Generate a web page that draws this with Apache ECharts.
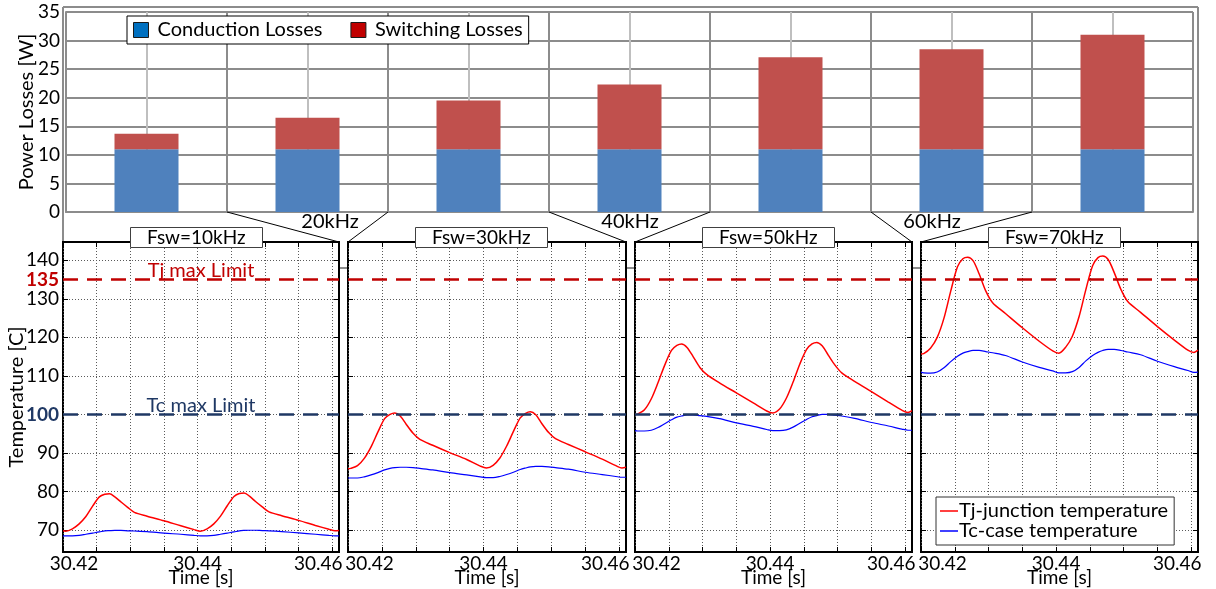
<!DOCTYPE html>
<html><head><meta charset="utf-8">
<script src="https://cdn.jsdelivr.net/npm/echarts@6/dist/echarts.min.js"></script>
<style>html,body{margin:0;padding:0;background:#fff}#c{width:1216px;height:589px}</style>
</head><body><div id="c"></div>
<script>
// ---------------- DATA ----------------
const categories = ['10kHz','20kHz','30kHz','40kHz','50kHz','60kHz','70kHz'];
const conductionLosses = [11, 11, 11, 11, 11, 11, 11];
const switchingLosses = [2.7, 5.5, 8.5, 11.3, 16.1, 17.5, 20.0];

const panelTitles = ['Fsw=10kHz', 'Fsw=30kHz', 'Fsw=50kHz', 'Fsw=70kHz'];
const skippedFreqLabels = ['20kHz', '40kHz', '60kHz'];

const time = [30.4200,30.4204,30.4214,30.4224,30.4234,30.4244,30.4254,30.4262,30.4269,30.4277,30.4286,30.4296,30.4306,30.4325,30.4350,30.4375,30.4395,
  30.4404,30.4414,30.4424,30.4434,30.4444,30.4454,30.4462,30.4469,30.4477,30.4486,30.4496,30.4506,30.4525,30.4550,30.4575,30.4595,
  30.4604,30.4610];

const tj10 = [69.8,69.7,70.3,71.6,73.5,76.2,78.6,79.3,79.4,78.6,77.3,75.9,74.6,73.6,72.4,71.1,70.1,
  69.7,70.3,71.6,73.6,76.3,78.7,79.5,79.6,78.8,77.4,76.0,74.7,73.7,72.5,71.2,70.2, 69.8,69.9];
const tc10 = [68.5,68.5,68.5,68.6,68.9,69.2,69.5,69.8,69.85,69.9,69.9,69.8,69.75,69.6,69.2,68.9,68.6,
  68.5,68.5,68.6,68.9,69.2,69.5,69.8,69.9,69.95,69.95,69.85,69.8,69.6,69.25,68.9,68.6, 68.5,68.5];
const tj30 = [85.9,86.0,86.7,88.6,91.6,95.4,98.9,100.0,100.4,99.6,97.4,95.1,93.5,92.0,90.1,88.3,86.6,
  86.1,86.8,88.7,91.8,95.6,99.1,100.3,100.7,99.9,97.6,95.3,93.7,92.2,90.3,88.4,86.7, 86.1,86.3];
const tc30 = [83.5,83.5,83.5,83.8,84.3,84.9,85.6,86.0,86.2,86.3,86.3,86.2,86.0,85.6,84.9,84.3,83.8,
  83.6,83.6,83.9,84.4,85.0,85.7,86.1,86.4,86.5,86.5,86.4,86.2,85.8,85.0,84.4,83.9, 83.7,83.7];
const tj50 = [100.0,100.1,101.2,104.0,108.2,112.8,116.6,117.9,118.3,117.4,115.0,112.2,110.4,108.2,105.6,103.0,100.9,
  100.4,101.4,104.2,108.4,113.1,116.9,118.3,118.7,117.8,115.4,112.8,110.8,108.6,105.9,103.2,101.1, 100.5,101.0];
const tc50 = [95.8,95.7,95.7,95.9,96.6,97.6,98.6,99.3,99.6,99.9,99.9,99.7,99.5,98.9,97.8,96.9,96.1,
  95.8,95.8,96.0,96.7,97.7,98.7,99.4,99.7,100.0,100.0,99.8,99.6,99.0,97.9,97.0,96.2, 95.9,95.9];
const tj70 = [115.7,115.8,117.2,120.0,125.0,132.0,138.3,140.4,140.8,139.9,136.5,132.0,129.0,126.2,122.5,119.0,116.5,
  115.9,117.4,120.3,125.4,132.4,138.6,140.7,141.1,140.2,136.8,132.4,129.3,126.5,122.8,119.3,116.7, 116.1,116.7];
const tc70 = [110.9,110.8,110.7,111.0,112.1,113.7,115.1,115.9,116.3,116.6,116.6,116.3,116.0,115.3,113.6,112.2,111.3,
  110.8,110.8,111.1,112.2,113.9,115.3,116.1,116.6,116.9,116.9,116.6,116.2,115.5,113.8,112.4,111.4, 110.9,111.0];

const tempTicks = [70, 80, 90, 100, 110, 120, 130, 140];
const tempLabels = [70, 80, 90, 100, 110, 120, 130, 135, 140];
const timeTicks = [30.42, 30.425, 30.43, 30.435, 30.44, 30.445, 30.45, 30.455, 30.46];
const timeLabels = [30.42, 30.44, 30.46];
const tjMax = 135, tcMax = 100;

// ---------------- LAYOUT ----------------
const FONT = 'Lato, "Open Sans", sans-serif';
const BAR = {left: 66, top: 12, width: 1127, height: 200};
const PANEL_LEFT = [63, 348, 635, 921];
const PANEL_W = [276, 278, 277, 277];
const PANEL_TOP = 242, PANEL_H = 310;
const T_MIN = 64.3, T_MAX = 144.75, X_MIN = 30.42, X_MAX = 30.461;
const FRAME = {left: 63, top: 7, right: 1198, bottom: 268};
const FUNNEL_LABEL_X = [330, 630, 932];
const RED = '#C00000', NAVY = '#1F3864';

const tjSeries = [tj10, tj30, tj50, tj70];
const tcSeries = [tc10, tc30, tc50, tc70];

const grids = [Object.assign({show: false, outerBoundsMode: 'none', containLabel: false}, BAR)];
PANEL_LEFT.forEach((l, i) => grids.push({left: l, top: PANEL_TOP, width: PANEL_W[i], height: PANEL_H,
  show: true, backgroundColor: '#fff', borderColor: '#000', borderWidth: 2, outerBoundsMode: 'none', containLabel: false}));

const txt = (size) => ({fontSize: size, fontFamily: FONT, color: '#000'});

const xAxes = [{type: 'category', gridIndex: 0, data: categories, boundaryGap: true,
  axisLabel: {show: false}, axisTick: {show: false},
  axisLine: {show: true, lineStyle: {color: '#8C8C8C', width: 2}},
  splitLine: {show: true, lineStyle: {color: '#8C8C8C', width: 2}}}];
const yAxes = [{type: 'value', gridIndex: 0, min: 0, max: 35, interval: 5,
  axisLine: {show: true, lineStyle: {color: '#8C8C8C', width: 2}}, axisTick: {show: false},
  splitLine: {show: true, lineStyle: {color: '#8C8C8C', width: 2}},
  axisLabel: Object.assign({margin: 6}, txt(19)),
  name: 'Power Losses [W]', nameLocation: 'middle', nameGap: 29, nameMoveOverlap: false, nameTextStyle: txt(20)}];

const series = [
  {type: 'bar', name: 'Conduction Losses', xAxisIndex: 0, yAxisIndex: 0, stack: 'loss', barWidth: 64,
    itemStyle: {color: '#4F81BD'}, data: conductionLosses, z: 3},
  {type: 'bar', name: 'Switching Losses', xAxisIndex: 0, yAxisIndex: 0, stack: 'loss', barWidth: 64,
    itemStyle: {color: '#C0504D'}, data: switchingLosses, z: 3},
  {type: 'line', name: 'centre', xAxisIndex: 0, yAxisIndex: 0, data: categories.map(() => null), z: 1, silent: true,
    markLine: {symbol: 'none', silent: true, label: {show: false}, animation: false, z: 1,
      lineStyle: {color: '#BFBFBF', width: 2, type: 'solid'},
      data: categories.map(c => ({xAxis: c}))}}
];

PANEL_LEFT.forEach((l, i) => {
  const g = i + 1;
  const tickX = {show: true, inside: true, length: 5, customValues: timeTicks, lineStyle: {color: '#000', width: 1}};
  const tickY = {show: true, inside: true, length: 5, customValues: tempTicks, lineStyle: {color: '#000', width: 1}};
  const grid = {color: '#5a5a5a', width: 1, type: [1, 2]};
  xAxes.push({type: 'value', gridIndex: g, position: 'bottom', min: X_MIN, max: X_MAX,
    axisLine: {show: false}, axisTick: tickX, splitLine: {show: true, lineStyle: grid},
    axisLabel: Object.assign({customValues: timeLabels, margin: 2, hideOverlap: false,
      formatter: (v) => {
        const s = v.toFixed(2);
        if (Math.abs(v - timeLabels[0]) < 1e-6) return '{l|' + s + '}';
        if (Math.abs(v - timeLabels[2]) < 1e-6) return '{r|' + s + '}';
        return s;
      },
      rich: {
        l: Object.assign({padding: [0, 0, 0, i === 0 ? 22 : 43]}, txt(19)),
        r: Object.assign({padding: [0, 28, 0, 0]}, txt(19))
      }}, txt(19)),
    name: 'Time [s]', nameLocation: 'middle', nameGap: 16, nameMoveOverlap: false, nameTextStyle: txt(19)});
  xAxes.push({type: 'value', gridIndex: g, position: 'top', min: X_MIN, max: X_MAX,
    axisLine: {show: false}, axisTick: tickX, axisLabel: {show: false}, splitLine: {show: false}});
  const left = {type: 'value', gridIndex: g, position: 'left', min: T_MIN, max: T_MAX,
    axisLine: {show: false}, axisTick: tickY, splitLine: {show: true, lineStyle: grid},
    axisLabel: {show: false}};
  if (i === 0) {
    left.axisLabel = Object.assign({show: true, customValues: tempLabels, margin: 4, hideOverlap: false,
      formatter: (v) => v === tjMax ? '{tj|' + v + '}' : (v === tcMax ? '{tc|' + v + '}' : String(v)),
      rich: {
        tj: Object.assign({}, txt(19), {color: RED, fontWeight: 'bold'}),
        tc: Object.assign({}, txt(19), {color: NAVY, fontWeight: 'bold'})
      }}, txt(19));
    left.name = 'Temperature [C]';
    left.nameLocation = 'middle';
    left.nameGap = 36;
    left.nameMoveOverlap = false;
    left.nameTextStyle = txt(20);
  }
  yAxes.push(left);
  yAxes.push({type: 'value', gridIndex: g, position: 'right', min: T_MIN, max: T_MAX,
    axisLine: {show: false}, axisTick: tickY, axisLabel: {show: false}, splitLine: {show: false}});

  const xi = 1 + 2 * i, yi = 1 + 2 * i;
  series.push({type: 'line', name: 'Tj-junction temperature', xAxisIndex: xi, yAxisIndex: yi,
    data: time.map((t, k) => [t, tjSeries[i][k]]), symbol: 'none', smooth: 0.3, z: 4,
    lineStyle: {color: '#FF0000', width: 1.5}, itemStyle: {color: '#FF0000'},
    markLine: {symbol: 'none', silent: true, animation: false,
      lineStyle: {color: RED, width: 2.5, type: [15, 9]},
      label: i === 0 ? {show: true, formatter: 'Tj max Limit', position: 'insideMiddleTop', distance: -1,
        color: RED, fontSize: 20, fontFamily: FONT} : {show: false},
      data: [{yAxis: tjMax}]}});
  series.push({type: 'line', name: 'Tc-case temperature', xAxisIndex: xi, yAxisIndex: yi,
    data: time.map((t, k) => [t, tcSeries[i][k]]), symbol: 'none', smooth: 0.3, z: 4,
    lineStyle: {color: '#0000FF', width: 1.2}, itemStyle: {color: '#0000FF'},
    markLine: {symbol: 'none', silent: true, animation: false,
      lineStyle: {color: NAVY, width: 2.5, type: [15, 9]},
      label: i === 0 ? {show: true, formatter: 'Tc max Limit', position: 'insideMiddleTop', distance: -1,
        color: NAVY, fontSize: 20, fontFamily: FONT} : {show: false},
      data: [{yAxis: tcMax}]}});
});

// titles for panels
const titles = panelTitles.map((t, i) => ({text: t, left: PANEL_LEFT[i] + 67, top: 227,
  padding: [1, 17, 1, 17], borderColor: '#404040', borderWidth: 1, backgroundColor: '#fff',
  textStyle: {fontSize: 19, fontFamily: FONT, fontWeight: 'normal', color: '#000', lineHeight: 19}, z: 8}));

// decorative frame and funnels
const catW = BAR.width / categories.length;
const barBottom = BAR.top + BAR.height;
const gray = {stroke: '#8C8C8C', lineWidth: 2};
const graphic = [
  {type: 'line', shape: {x1: FRAME.left, y1: FRAME.top, x2: FRAME.right, y2: FRAME.top}, style: gray, z: -1},
  {type: 'line', shape: {x1: FRAME.left, y1: FRAME.top, x2: FRAME.left, y2: PANEL_TOP}, style: gray, z: -1},
  {type: 'line', shape: {x1: FRAME.right, y1: FRAME.top, x2: FRAME.right, y2: PANEL_TOP}, style: gray, z: -1}
];
for (let k = 0; k < 3; k++) {
  const pr = PANEL_LEFT[k] + PANEL_W[k], pl = PANEL_LEFT[k + 1];
  graphic.push({type: 'line', shape: {x1: pr, y1: FRAME.bottom, x2: pl, y2: FRAME.bottom}, style: gray, z: -1});
  const c = 2 * k + 1;
  graphic.push({type: 'line', shape: {x1: BAR.left + c * catW, y1: barBottom, x2: pr, y2: PANEL_TOP},
    style: {stroke: '#000', lineWidth: 1}, z: 10});
  graphic.push({type: 'line', shape: {x1: BAR.left + (c + 1) * catW, y1: barBottom, x2: pl, y2: PANEL_TOP},
    style: {stroke: '#000', lineWidth: 1}, z: 10});
  graphic.push({type: 'text', x: FUNNEL_LABEL_X[k], y: 222, z: 10,
    style: {text: skippedFreqLabels[k], fill: '#000', font: '20px ' + FONT, textAlign: 'center', textVerticalAlign: 'middle'}});
}

const option = {
  animation: false,
  backgroundColor: '#fff',
  title: titles,
  grid: grids,
  xAxis: xAxes,
  yAxis: yAxes,
  legend: [
    {left: 127, top: 16, orient: 'horizontal', selectedMode: false, icon: 'rect',
      itemWidth: 15, itemHeight: 15, itemGap: 28, padding: [4, 6, 4, 6],
      borderColor: '#000', borderWidth: 1, backgroundColor: '#fff',
      textStyle: Object.assign({padding: [0, 0, 0, 4], lineHeight: 20}, txt(20)),
      data: [
        {name: 'Conduction Losses', itemStyle: {color: '#0070C0', borderColor: '#1a1a1a', borderWidth: 1}},
        {name: 'Switching Losses', itemStyle: {color: '#C00000', borderColor: '#1a1a1a', borderWidth: 1}}
      ]},
    {left: 936, top: 497, orient: 'vertical', selectedMode: false, icon: 'rect',
      itemWidth: 18, itemHeight: 1.5, itemGap: 0, padding: [4, 6, 4, 4],
      borderColor: '#333', borderWidth: 1, backgroundColor: '#fff',
      textStyle: Object.assign({lineHeight: 18, padding: [0, 0, 0, -4]}, txt(20)),
      data: ['Tj-junction temperature', 'Tc-case temperature']}
  ],
  graphic: graphic,
  series: series
};

const chart = echarts.init(document.getElementById('c'));
chart.setOption(option);
</script>
</body></html>
